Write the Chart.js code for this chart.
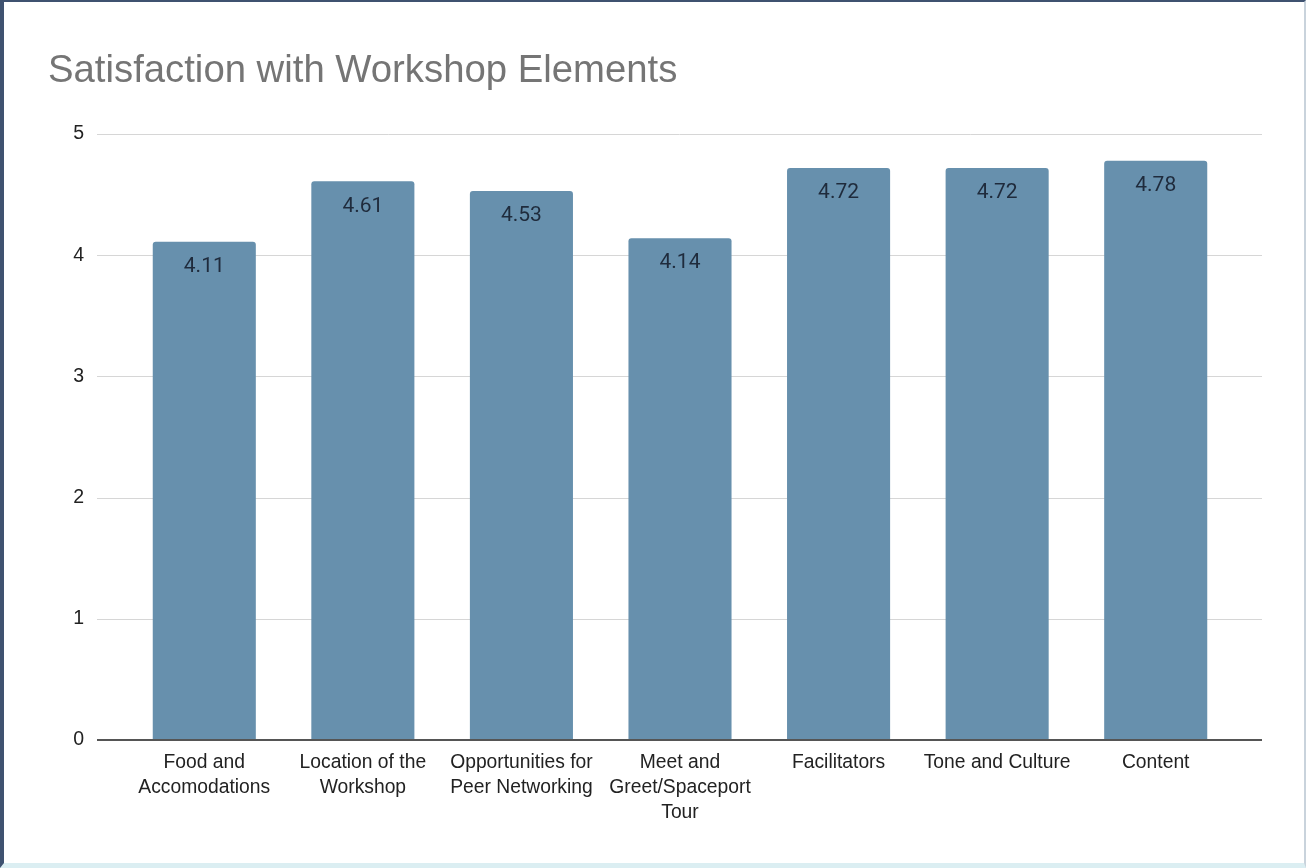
<!DOCTYPE html>
<html>
<head>
<meta charset="utf-8">
<script src="https://cdn.jsdelivr.net/npm/chart.js@4.4.1/dist/chart.umd.min.js"></script>
<style>
	html, body { margin: 0; padding: 0; background: #fff; }
	#wrap { position: relative; width: 1306px; height: 868px; overflow: hidden; }
	#title { position: absolute; left: 48px; top: 47px; font-family: "Liberation Sans", Arial, sans-serif; font-size: 38.3px; color: #757575; white-space: nowrap; }
	#frame { position: absolute; left: 0; top: 0; right: 0; bottom: 0; border-left: 4px solid #3f5270; border-top: 2px solid #3f5270; border-right: 2px solid #c9d3dc; border-bottom: 5px solid #dbeef2; pointer-events: none; }
	canvas { position: absolute; left: 0; top: 0; }
</style>
</head>
<body>
<div id="wrap">
	<canvas id="grafico" width="1306" height="868"></canvas>
	<div id="title">Satisfaction with Workshop Elements</div>
	<div id="frame"></div>
</div>
<script>
// data
const categorias = [
	['Food and', 'Accomodations'],
	['Location of the', 'Workshop'],
	['Opportunities for', 'Peer Networking'],
	['Meet and', 'Greet/Spaceport', 'Tour'],
	'Facilitators',
	'Tone and Culture',
	'Content'
];
const notas = [4.11, 4.61, 4.53, 4.14, 4.72, 4.72, 4.78];
const ticksY = [0, 1, 2, 3, 4, 5];

// horizontal grid lines, a bit wider than the bars area
const gridExtra = {
	id: 'gridExtra',
	beforeDatasetsDraw(chart) {
		const ctx = chart.ctx;
		const y = chart.scales.y;
		ctx.save();
		ticksY.forEach(v => {
			if (v === 0) return;
			const py = Math.round(y.getPixelForValue(v)) + 0.5;
			ctx.beginPath();
			ctx.moveTo(97, py);
			ctx.lineTo(1262, py);
			ctx.lineWidth = 1;
			ctx.strokeStyle = '#d6d6d6';
			ctx.stroke();
		});
		ctx.restore();
	},
	afterDatasetsDraw(chart) {
		// baseline at zero goes over the bars
		const py = chart.scales.y.getPixelForValue(0);
		const ctx = chart.ctx;
		ctx.save();
		ctx.beginPath();
		ctx.moveTo(97, py);
		ctx.lineTo(1262, py);
		ctx.lineWidth = 2;
		ctx.strokeStyle = '#555555';
		ctx.stroke();
		ctx.restore();
	}
};

// value labels inside the top of each bar
const rotulos = {
	id: 'rotulos',
	afterDatasetsDraw(chart) {
		const ctx = chart.ctx;
		const meta = chart.getDatasetMeta(0);
		ctx.save();
		ctx.font = '21px Roboto';
		ctx.fillStyle = '#1f2b3c';
		ctx.textAlign = 'center';
		ctx.textBaseline = 'middle';
		meta.data.forEach((bar, i) => {
			ctx.fillText(notas[i].toFixed(2), bar.x, bar.y + 25);
		});
		ctx.restore();
	}
};

const ctx = document.getElementById('grafico').getContext('2d');
let myChart = new Chart(ctx, {
	type: 'bar',
	data: {
		labels: categorias,
		datasets: [{
			label: 'Satisfaction',
			data: notas,
			backgroundColor: '#6790ad',
			borderRadius: { topLeft: 3, topRight: 3 },
			borderSkipped: 'bottom',
			barPercentage: 0.65,
			categoryPercentage: 1
		}]
	},
	options: {
		responsive: false,
		animation: false,
		layout: { padding: { top: 134, right: 71, left: 0, bottom: 0 } },
		plugins: {
			legend: { display: false },
			tooltip: { enabled: false }
		},
		scales: {
			x: {
				grid: { display: false, drawTicks: false },
				border: { display: false },
				ticks: {
					color: '#222222',
					font: { family: '"Liberation Sans", Arial', size: 19.3, lineHeight: '25px' },
					padding: 10,
					maxRotation: 0,
					autoSkip: false
				},
				afterFit(scale) { scale.height = 128; }
			},
			y: {
				min: 0,
				max: 5,
				grid: { display: false, drawTicks: false },
				border: { display: false },
				ticks: {
					stepSize: 1,
					color: '#222222',
					font: { family: '"Liberation Sans", Arial', size: 19.5 },
					padding: 41
				},
				afterFit(scale) { scale.width = 125; }
			}
		}
	},
	plugins: [gridExtra, rotulos]
});
</script>
</body>
</html>
